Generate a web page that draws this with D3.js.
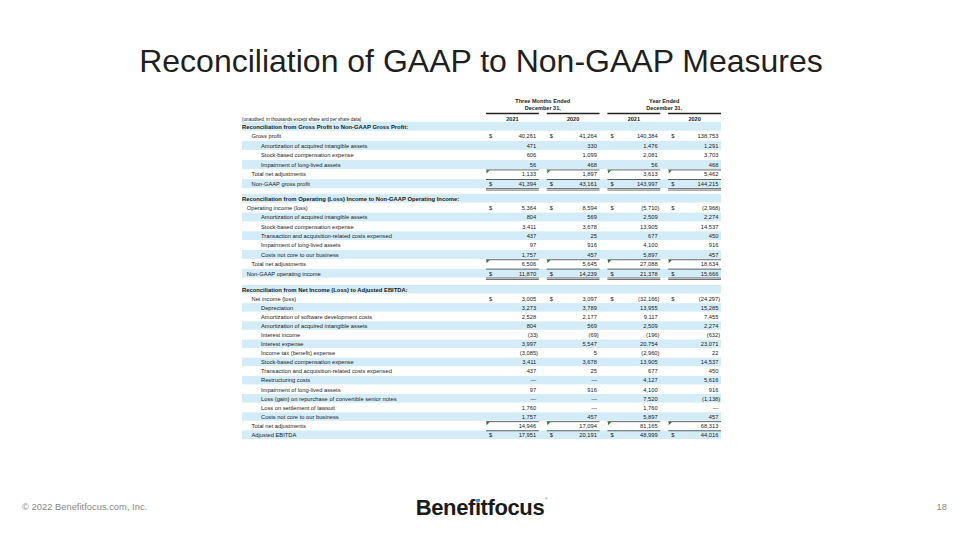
<!DOCTYPE html>
<html><head><meta charset="utf-8">
<script src="https://cdn.jsdelivr.net/npm/d3@7"></script>
<style>body{margin:0;background:#fff} svg{display:block;font-family:"Liberation Sans",Arial,sans-serif}</style>
</head><body><svg id="c" width="960" height="540"></svg>
<script>
const title = "Reconciliation of GAAP to Non-GAAP Measures";
const note = "(unaudited, in thousands except share and per share data)";
const periodGroups = ["Three Months Ended", "Year Ended"];
const periodSub = "December 31,";
const years = ["2021", "2020", "2021", "2020"];
const footerLeft = "\u00a9 2022 Benefitfocus.com, Inc.";
const pageNum = "18";
const logoText = "Benefitfocus";

const sec1Title = "Reconciliation from Gross Profit to Non-GAAP Gross Profit:";
const sec1Labels = ["Gross profit", "Amortization of acquired intangible assets", "Stock-based compensation expense",
  "Impairment of long-lived assets", "Total net adjustments", "Non-GAAP gross profit"];
const sec1Indent = [1, 2, 2, 2, 1, 1];
const sec1Kind = ["first", "item", "item", "item", "total", "grand2"];
const sec1Values = [
  [40261, 41264, 140384, 138753],
  [471, 330, 1476, 1291],
  [606, 1099, 2081, 3703],
  [56, 468, 56, 468],
  [1133, 1897, 3613, 5462],
  [41394, 43161, 143997, 144215]
];

const sec2Title = "Reconciliation from Operating (Loss) Income to Non-GAAP Operating Income:";
const sec2Labels = ["Operating income (loss)", "Amortization of acquired intangible assets", "Stock-based compensation expense",
  "Transaction and acquisition-related costs expensed", "Impairment of long-lived assets", "Costs not core to our business",
  "Total net adjustments", "Non-GAAP operating income"];
const sec2Indent = [0.5, 2, 2, 2, 2, 2, 1, 0.5];
const sec2Kind = ["first", "item", "item", "item", "item", "item", "total", "grand2"];
const sec2Values = [
  [5364, 8594, -5710, -2968],
  [804, 569, 2509, 2274],
  [3411, 3678, 13905, 14537],
  [437, 25, 677, 450],
  [97, 916, 4100, 916],
  [1757, 457, 5897, 457],
  [6506, 5645, 27088, 18634],
  [11870, 14239, 21378, 15666]
];

const sec3Title = "Reconciliation from Net Income (Loss) to Adjusted EBITDA:";
const sec3Labels = ["Net income (loss)", "Depreciation", "Amortization of software development costs",
  "Amortization of acquired intangible assets", "Interest income", "Interest expense", "Income tax (benefit) expense",
  "Stock-based compensation expense", "Transaction and acquisition-related costs expensed", "Restructuring costs",
  "Impairment of long-lived assets", "Loss (gain) on repurchase of convertible senior notes", "Loss on settlement of lawsuit",
  "Costs not core to our business", "Total net adjustments", "Adjusted EBITDA"];
const sec3Indent = [1, 2, 2, 2, 2, 2, 2, 2, 2, 2, 2, 2, 2, 2, 1, 1];
const sec3Kind = ["first", "item", "item", "item", "item", "item", "item", "item", "item", "item", "item", "item", "item", "item", "total", "grand"];
const sec3Values = [
  [3005, 3097, -32166, -24297],
  [3273, 3789, 13955, 15285],
  [2528, 2177, 9117, 7455],
  [804, 569, 2509, 2274],
  [-33, -69, -196, -632],
  [3997, 5547, 20754, 23071],
  [-3085, 5, -2960, 22],
  [3411, 3678, 13905, 14537],
  [437, 25, 677, 450],
  [null, null, 4127, 5616],
  [97, 916, 4100, 916],
  [null, null, 7520, -1138],
  [1760, null, 1760, null],
  [1757, 457, 5897, 457],
  [14946, 17094, 81165, 68313],
  [17951, 20191, 48999, 44016]
];

const sections = [
  {title: sec1Title, labels: sec1Labels, indent: sec1Indent, kind: sec1Kind, values: sec1Values, y0: 126.5, y1: 184},
  {title: sec2Title, labels: sec2Labels, indent: sec2Indent, kind: sec2Kind, values: sec2Values, y0: 198.5, y1: 273.5},
  {title: sec3Title, labels: sec3Labels, indent: sec3Indent, kind: sec3Kind, values: sec3Values, y0: 289.5, y1: 435}
];

const svg = d3.select("#c");
const FS = 5.75;
const TXT = "#1a1a1a";
const SHADE = "#d3ecf8";
const tableLeft = 242, tableRight = 721;

svg.append("text").attr("x", 481).attr("y", 72).attr("text-anchor", "middle")
  .attr("font-size", 32).attr("fill", "#1f1f1f").text(title);

const x = d3.scaleBand().domain(d3.range(4)).range([486, 721]).paddingInner(0.13).paddingOuter(0);
const bw = x.bandwidth();
const fmt = d3.format(",");
function fmtVal(v) {
  if (v === null) return "\u2014";
  return v < 0 ? "(" + fmt(-v) + ")" : fmt(v);
}

// header
const hdr = svg.append("g").attr("font-size", FS - 0.2).attr("fill", TXT);
periodGroups.forEach((g, i) => {
  const cx = (x(i * 2) + x(i * 2 + 1) + bw) / 2;
  hdr.append("text").attr("x", cx).attr("y", 102.5).attr("text-anchor", "middle").attr("font-weight", "bold").text(g);
  hdr.append("text").attr("x", cx).attr("y", 109.5).attr("text-anchor", "middle").attr("font-weight", "bold").text(periodSub);
});
years.forEach((yr, i) => {
  hdr.append("text").attr("x", x(i) + bw / 2).attr("y", 120.5).attr("text-anchor", "middle").attr("font-weight", "bold").text(yr);
  hdr.append("line").attr("x1", x(i)).attr("x2", x(i) + bw).attr("y1", 113.5).attr("y2", 113.5).attr("stroke", "#222").attr("stroke-width", 1.3);
  hdr.append("line").attr("x1", x(i)).attr("x2", x(i) + bw).attr("y1", 122.5).attr("y2", 122.5).attr("stroke", "#444").attr("stroke-width", 0.6);
});
hdr.append("text").attr("x", tableLeft).attr("y", 120.5).attr("font-size", 4.6).attr("font-weight", "normal").text(note);

sections.forEach(sec => {
  const n = sec.labels.length;
  const y = d3.scaleLinear().domain([0, n]).range([sec.y0, sec.y1]);
  const step = y(1) - y(0);
  const g = svg.append("g").attr("font-size", FS).attr("fill", TXT);
  for (let r = 0; r <= n; r += 2) {
    g.append("rect").attr("x", tableLeft).attr("width", tableRight - tableLeft)
      .attr("y", y(r) - step / 2).attr("height", step - 0.6).attr("fill", SHADE);
  }
  g.append("text").attr("x", tableLeft).attr("y", y(0) + 2).attr("font-weight", "bold").attr("font-size", FS + 0.1).text(sec.title);
  sec.labels.forEach((lab, i) => {
    const cy = y(i + 1);
    g.append("text").attr("x", tableLeft + sec.indent[i] * 9.5).attr("y", cy + 2).text(lab);
    const kind = sec.kind[i];
    sec.values[i].forEach((v, c) => {
      const right = x(c) + bw;
      const neg = v !== null && v < 0;
      g.append("text").attr("x", neg ? right - 0.8 : right - 2.6).attr("y", cy + 2)
        .attr("text-anchor", "end").text(fmtVal(v));
      if (kind === "first" || kind === "grand" || kind === "grand2") {
        g.append("text").attr("x", x(c) + 3).attr("y", cy + 2).text("$");
      }
      if (kind === "total" || kind === "grand" || kind === "grand2") {
        const ly = cy - step / 2 + 0.3;
        g.append("line").attr("x1", x(c)).attr("x2", right).attr("y1", ly).attr("y2", ly)
          .attr("stroke", "#222").attr("stroke-width", 0.7);
      }
      if (kind === "total") {
        const ly = cy - step / 2 + 0.6;
        g.append("path").attr("d", `M${x(c) + 0.5},${ly} l3.2,0 l-3.2,3.2 Z`).attr("fill", "#237a23");
      }
      if (kind === "grand2") {
        const ly = cy + step / 2 - 0.2;
        g.append("line").attr("x1", x(c)).attr("x2", right).attr("y1", ly).attr("y2", ly).attr("stroke", "#333").attr("stroke-width", 0.7);
        g.append("line").attr("x1", x(c)).attr("x2", right).attr("y1", ly + 1.5).attr("y2", ly + 1.5).attr("stroke", "#333").attr("stroke-width", 0.7);
      }
    });
  });
});

// footer
svg.append("text").attr("x", 22).attr("y", 510).attr("font-size", 9.4).attr("fill", "#8a8a8a").text(footerLeft);
svg.append("text").attr("x", 947).attr("y", 510).attr("text-anchor", "end").attr("font-size", 9.4).attr("fill", "#8a8a8a").text(pageNum);
const logo = svg.append("text").attr("x", 480).attr("y", 515).attr("text-anchor", "middle")
  .attr("font-size", 22).attr("font-weight", "bold").attr("letter-spacing", -0.4).attr("fill", "#1a1a1a").text(logoText);
const ln = logo.node();
const iIdx = logoText.indexOf("i");
const ext = ln.getExtentOfChar(iIdx);
svg.append("circle").attr("cx", ext.x + ext.width / 2).attr("cy", 515 - 14.2).attr("r", 1.9).attr("fill", "#4a90e2");
const endExt = ln.getExtentOfChar(logoText.length - 1);
svg.append("text").attr("x", endExt.x + endExt.width + 0.5).attr("y", 500).attr("font-size", 4).attr("fill", "#555").text("\u00ae");
</script></body></html>
